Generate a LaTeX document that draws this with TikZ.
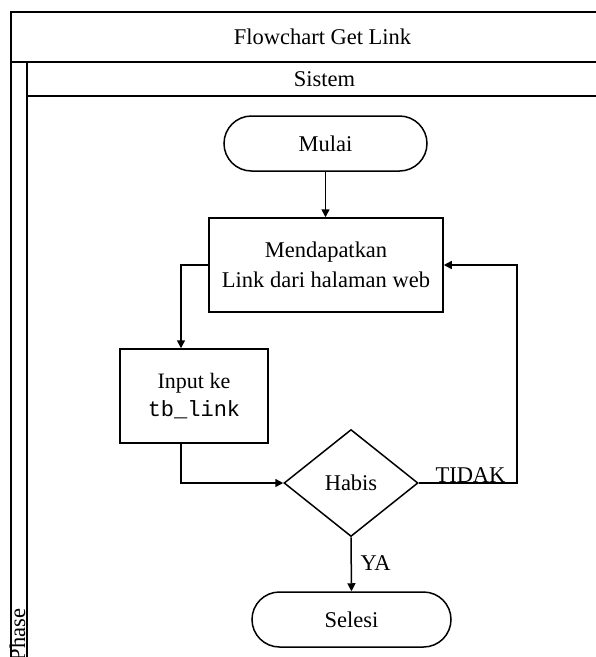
\documentclass[tikz,border=0pt]{standalone}
\usepackage{fontspec}
\setmainfont{Liberation Serif}[Extension=.ttf,UprightFont=LiberationSerif-Regular,BoldFont=LiberationSerif-Bold,ItalicFont=LiberationSerif-Italic]
\setmonofont{Liberation Mono}
\usetikzlibrary{shapes.geometric,arrows.meta,calc}
\begin{document}
\begin{tikzpicture}[x=1pt,y=-1pt,
  lines/.style={line width=1.5pt,black},
  txt/.style={font=\rmfamily\fontsize{22.5}{30}\selectfont,inner sep=0pt},
  procbox/.style={txt,draw,line width=1.5pt,rectangle,align=center},
  termbox/.style={txt,draw,line width=1.5pt,rectangle,rounded corners=27.5pt,minimum height=55pt,align=center},
  decbox/.style={txt,draw,line width=1.5pt,diamond,minimum width=134pt,minimum height=107pt},
  conn/.style={line width=1.5pt,-{Triangle[length=8pt,width=8pt]}},
  plain/.style={line width=1.5pt}]
\useasboundingbox (0,0) rectangle (596,657);
\clip (0,0) rectangle (596,657);
% frame
\draw[lines] (11,670) -- (11,12) -- (620,12);
\draw[lines] (11,62) -- (620,62);
\draw[lines] (27,670) -- (27,62);
\draw[lines] (27,96) -- (620,96);
\node[txt] (title) at (322.5,37) {Flowchart Get Link};
\node[txt] (lane) at (324.5,79) {Sistem};
\node[txt,rotate=90,anchor=base west] (phase) at (25,661.3) {Phase};
% nodes
\node[termbox,minimum width=203pt] (mulai) at (325.5,143.5) {Mulai};
\node[procbox,minimum width=234pt,minimum height=94pt] (dapat) at (326,265) {Mendapatkan\\Link dari halaman web};
\node[procbox,minimum width=148pt,minimum height=94pt,font=\fontsize{22}{28}\selectfont] (input) at (194,396) {Input ke\\\texttt{tb\_link}};
\node[decbox] (habis) at (351,483) {Habis};
\node[termbox,minimum width=199pt] (selesi) at (351.5,619.5) {Selesi};
\coordinate (turn) at (517,483);
% connectors
\draw[conn] (mulai.south) -- (mulai.south |- dapat.north);
\draw[conn] (dapat.west) -| ([xshift=-13pt]input.north);
\draw[conn] ([xshift=-13pt]input.south) |- (habis.west);
\draw[conn] (habis.south) -- (selesi.north);
\draw[conn] (habis.east) -- (turn) |- (dapat.east);
\node[txt,anchor=base] (tidak) at (470.5,482) {TIDAK};
\node[txt] (ya) at (375.5,563) {YA};
\end{tikzpicture}
\end{document}
